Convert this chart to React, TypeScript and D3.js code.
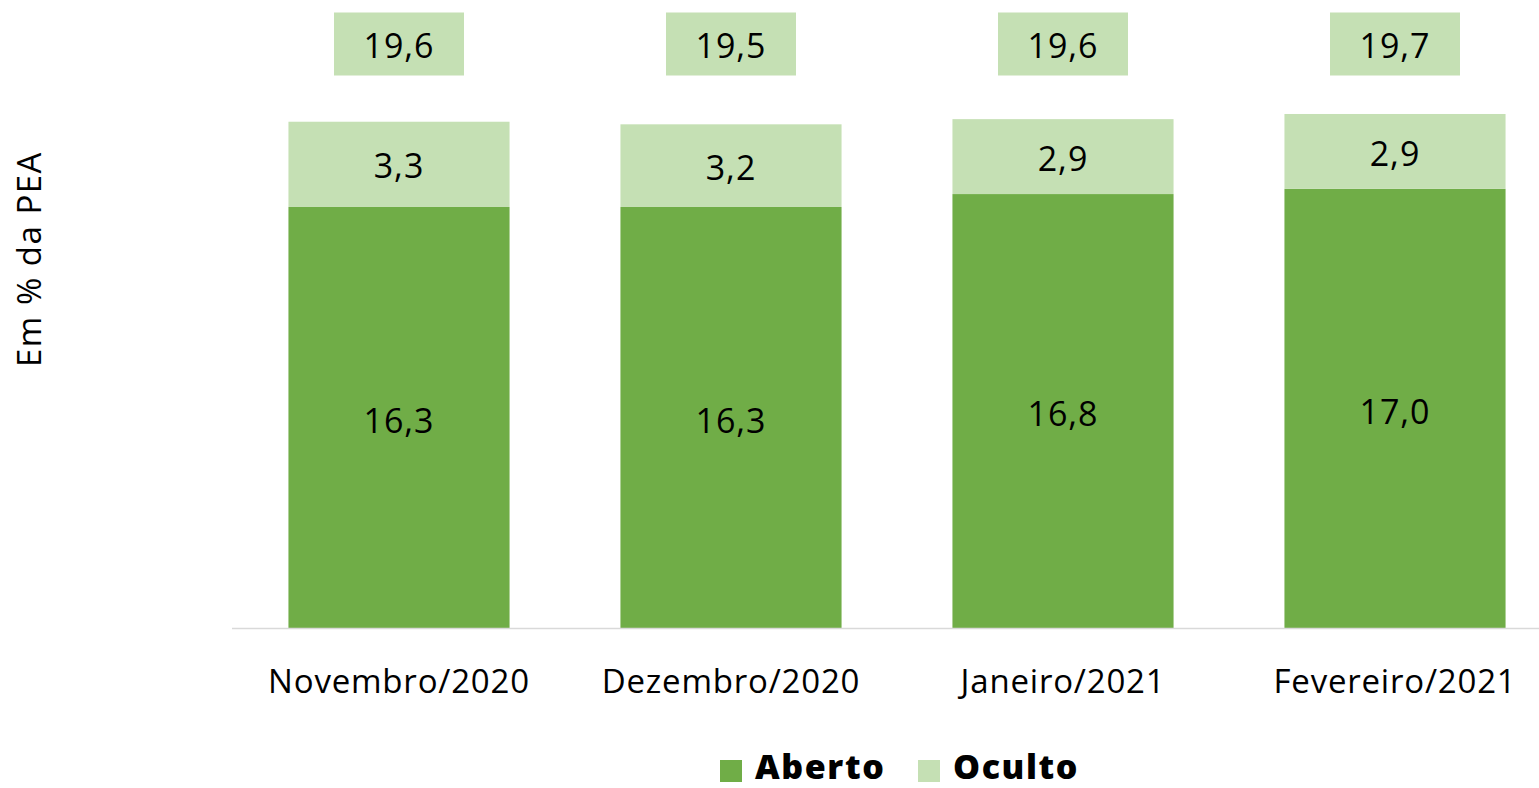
import React from "react";
import * as d3 from "d3";

const categories = ["Novembro/2020", "Dezembro/2020", "Janeiro/2021", "Fevereiro/2021"];
const aberto = [16.3, 16.3, 16.8, 17.0];
const oculto = [3.3, 3.2, 2.9, 2.9];
const totals = [19.6, 19.5, 19.6, 19.7];
const seriesNames = ["Aberto", "Oculto"];

const W = 1539;
const H = 788;
const FONT = "'Open Sans', 'Noto Sans', sans-serif";
const C_AB = "#70AD47";
const C_OC = "#C5E0B4";

const locale = d3.formatLocale({ decimal: ",", thousands: ".", grouping: [3], currency: ["R$", ""] });
const fmt = locale.format(".1f");

export default function App() {
  const x = d3.scaleBand<string>().domain(categories).range([233, 1561]).paddingInner(0.334).paddingOuter(0.167);
  const y = d3.scaleLinear().domain([0, 1]).range([628, 628 - 25.83]);
  const bw = x.bandwidth();
  const boxW = 130;
  const boxH = 63;
  const boxCy = 44;
  const numProps = { fontSize: 34, letterSpacing: 1, textAnchor: "middle" as const, dominantBaseline: "middle" as const, fill: "#000" };

  return (
    <svg width={W} height={H} style={{ position: "absolute", left: 0, top: 0 }} fontFamily={FONT}>
      <rect width={W} height={H} fill="#fff" />
      {categories.map((c, i) => {
        const x0 = x(c)!;
        const cx = x0 + bw / 2;
        const yA = y(aberto[i]);
        const yO = y(aberto[i] + oculto[i]);
        return (
          <g key={c}>
            <rect x={x0} y={yA} width={bw} height={y(0) - yA} fill={C_AB} />
            <rect x={x0} y={yO} width={bw} height={yA - yO} fill={C_OC} />
            <text x={cx} y={(yA + y(0)) / 2 + 6} {...numProps}>
              {fmt(aberto[i])}
            </text>
            <text x={cx} y={(yO + yA) / 2 + 5} {...numProps}>
              {fmt(oculto[i])}
            </text>
            <rect x={cx - boxW / 2} y={boxCy - boxH / 2} width={boxW} height={boxH} fill={C_OC} />
            <text x={cx} y={boxCy + 5} {...numProps}>
              {fmt(totals[i])}
            </text>
            <text x={cx} y={684} textAnchor="middle" dominantBaseline="middle" fontSize={33} letterSpacing={0.8} fill="#000">
              {c}
            </text>
          </g>
        );
      })}
      <line x1={232} x2={W} y1={628.5} y2={628.5} stroke="#D9D9D9" strokeWidth={1.5} />
      <text
        transform={`translate(32,259) rotate(-90)`}
        textAnchor="middle"
        dominantBaseline="middle"
        fontSize={33}
        letterSpacing={1.5}
        fill="#000"
      >
        Em % da PEA
      </text>
      <g>
        {seriesNames.map((s, i) => {
          const lx = [720, 918][i];
          return (
            <g key={s}>
              <rect x={lx} y={760} width={22} height={22} fill={i === 0 ? C_AB : C_OC} />
              <text x={lx + 35} y={779} fontSize={34} letterSpacing={1.6} fontWeight={800} fill="#000">
                {s}
              </text>
            </g>
          );
        })}
      </g>
    </svg>
  );
}
